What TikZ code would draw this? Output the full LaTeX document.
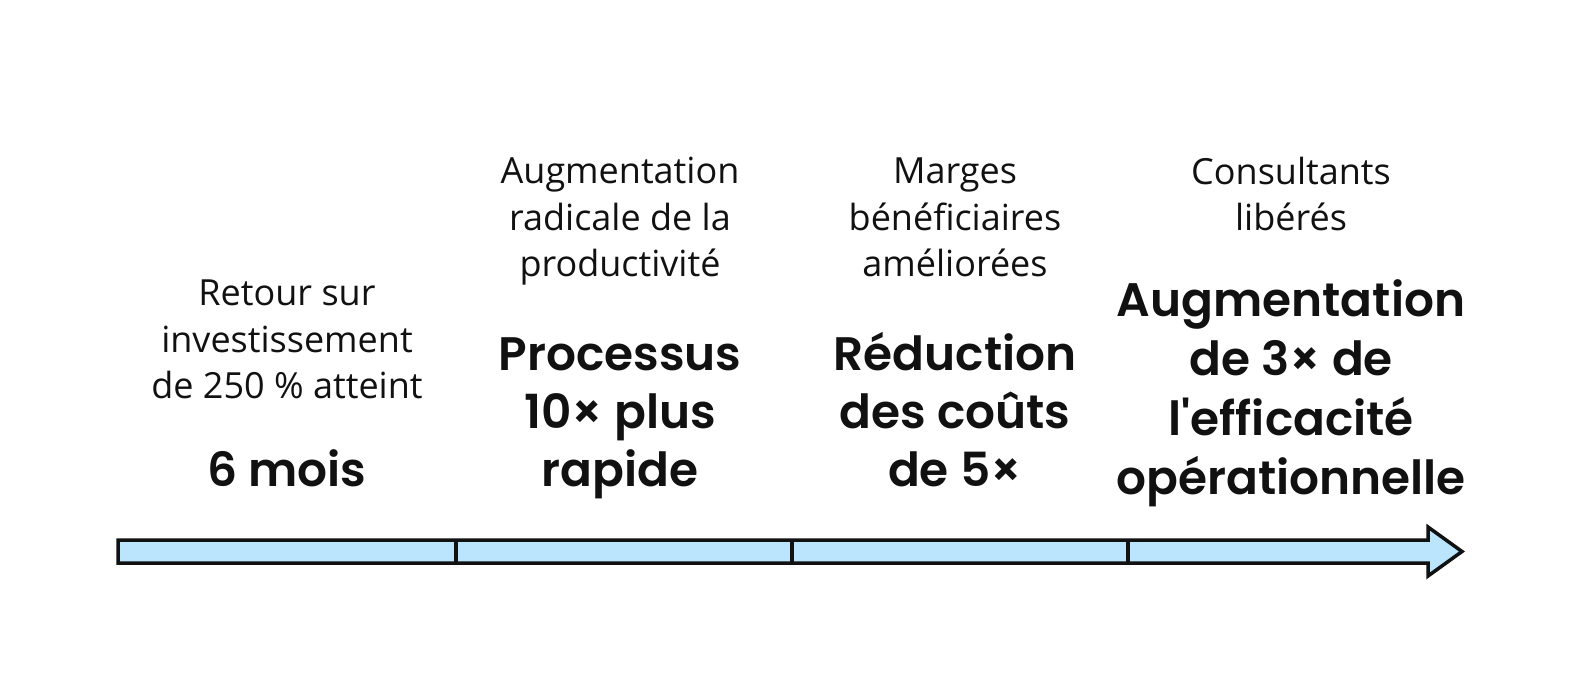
\documentclass[tikz,border=0pt]{standalone}
\usepackage{fontspec}
\setmainfont{Open Sans}
\IfFontExistsTF{Poppins SemiBold}
  {\newfontfamily\bigfont{Poppins SemiBold}\newcommand\bigweight{}}
  {\newfontfamily\bigfont{Poppins}\newcommand\bigweight{\bfseries}}
\definecolor{barfill}{HTML}{BAE5FC}
\definecolor{ink}{HTML}{111111}
\tikzset{
  small/.style={anchor=south, inner sep=0pt, text depth=0pt, align=center, text=ink,
    font=\fontsize{36}{46.8}\selectfont},
  big/.style={anchor=south, inner sep=0pt, text depth=0pt, align=center, text=ink,
    font=\bigfont\bigweight\fontsize{47}{58}\selectfont},
  bar/.style={draw=ink, line width=3.5pt, fill=barfill, line join=miter},
  divider/.style={draw=ink, line width=3.5pt}
}
\begin{document}
\begin{tikzpicture}[x=1pt, y=-1pt]
\useasboundingbox (0,0) rectangle (1584,672);
% arrow
\draw[bar] (118,540) -- (1428,540) -- (1428,527) -- (1462,551.5) -- (1428,576) -- (1428,563) -- (118,563) -- cycle;
\coordinate (d1t) at (456,540); \coordinate (d1b) at (456,563);
\coordinate (d2t) at (792,540); \coordinate (d2b) at (792,563);
\coordinate (d3t) at (1128,540); \coordinate (d3b) at (1128,563);
\draw[divider] (d1t) -- (d1b);
\draw[divider] (d2t) -- (d2b);
\draw[divider] (d3t) -- (d3b);
% column 1
\node[small] (s1) at (287,399) {Retour sur\\investissement\\de 250 \% atteint};
\node[big] (b1) at (287,487) {6 mois};
% column 2
\node[small] (s2) at (620,277) {Augmentation\\radicale de la\\productivité};
\node[big] (b2) at (620,487) {Processus\\10× plus\\rapide};
% column 3
\node[small] (s3) at (955,277) {Marges\\bénéficiaires\\améliorées};
\node[big] (b3) at (955,487) {Réduction\\des coûts\\de 5×};
% column 4
\node[small] (s4) at (1291,231) {Consultants\\libérés};
\node[big, font=\bigfont\bigweight\fontsize{47}{59.5}\selectfont] (b4) at (1291,495) {Augmentation\\de 3× de\\l'efficacité\\opérationnelle};
\end{tikzpicture}
\end{document}
